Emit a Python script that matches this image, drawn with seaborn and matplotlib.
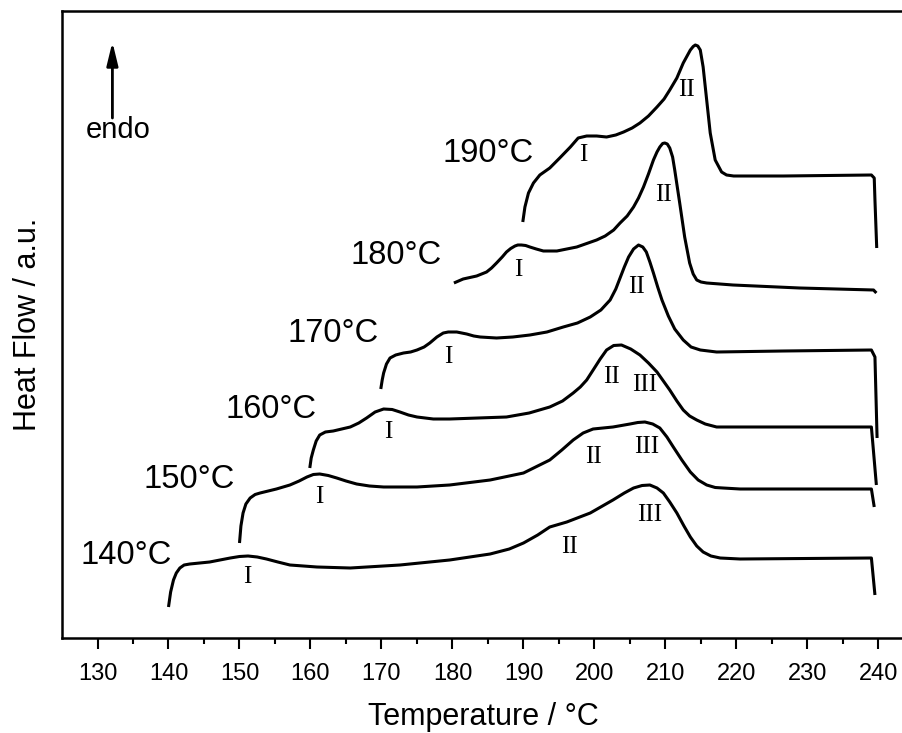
import matplotlib
matplotlib.use("Agg")
import matplotlib.pyplot as plt
import seaborn as sns
import pandas as pd

# ---- data (Temperature in °C, heat flow in arbitrary units, stacked) ----
t190 = [189.9, 190.2, 190.7, 191.4, 192.3, 193.7, 195.1, 196.6, 197.7, 198.9, 200.3, 201.7,
        203.0, 204.1, 205.3, 206.4, 207.6, 208.8, 209.8, 210.6, 211.6, 212.5, 213.5, 213.9,
        214.2, 214.55, 214.9, 215.3, 215.8, 216.3, 217.0, 217.9, 218.6, 219.6, 226.6, 239.0,
        239.4, 239.5, 239.75]
y190 = [41.6, 43.1, 44.5, 45.5, 46.3, 47.0, 48.0, 49.1, 50.0, 50.2, 50.2, 50.1,
        50.3, 50.6, 51.0, 51.5, 52.2, 53.1, 53.9, 54.8, 56.0, 57.5, 58.8, 59.15,
        59.3, 59.2, 58.8, 57.1, 53.8, 50.5, 47.8, 46.6, 46.3, 46.2, 46.2, 46.3,
        46.0, 43.8, 39.0]

t180 = [180.2, 181.5, 183.4, 184.8, 185.5, 186.2, 187.0, 187.6, 188.2, 188.8, 189.2, 189.7,
        190.3, 190.9, 191.8, 192.8, 194.7, 197.5, 200.3, 201.5, 202.7, 203.6, 204.6, 205.5,
        206.2, 206.9, 207.6, 208.3, 208.8, 209.2, 209.6, 209.9, 210.25, 210.6, 211.0, 211.3,
        212.0, 212.7, 213.4, 213.9, 214.4, 215.0, 215.8, 219.5, 228.9, 239.3, 239.7]
y180 = [35.5, 35.9, 36.2, 36.6, 37.0, 37.5, 38.1, 38.6, 38.95, 39.2, 39.3, 39.3,
        39.25, 39.1, 38.9, 38.7, 38.7, 39.1, 39.8, 40.2, 40.8, 41.5, 42.2, 43.1,
        44.0, 45.1, 46.4, 47.8, 48.6, 49.1, 49.45, 49.5, 49.4, 49.0, 48.1, 46.8,
        43.5, 40.1, 37.5, 36.4, 35.8, 35.6, 35.5, 35.3, 35.0, 34.8, 34.5]

t170 = [169.9, 170.1, 170.3, 170.7, 171.2, 172.0, 173.1, 174.1, 175.0, 176.0, 176.8, 177.8,
        178.7, 179.4, 180.6, 182.0, 183.0, 183.9, 186.2, 188.5, 190.9, 193.3, 195.6, 197.6,
        199.4, 200.9, 202.2, 203.0, 203.6, 204.2, 204.8, 205.5, 206.2, 206.8, 207.3, 207.8,
        208.3, 208.9, 209.5, 210.4, 211.3, 212.5, 213.6, 214.9, 217.2, 226.6, 239.0, 239.5,
        239.8]
y170 = [24.9, 25.8, 26.5, 27.4, 28.0, 28.3, 28.5, 28.6, 28.8, 29.1, 29.5, 30.1,
        30.5, 30.6, 30.6, 30.4, 30.2, 30.1, 30.0, 30.1, 30.3, 30.6, 31.1, 31.5,
        32.1, 32.8, 33.8, 34.9, 36.0, 37.1, 38.1, 38.9, 39.3, 39.1, 38.6, 37.6,
        36.5, 35.1, 33.8, 32.2, 30.9, 29.8, 29.1, 28.8, 28.6, 28.7, 28.8, 28.1,
        20.0]

t160 = [159.9, 160.1, 160.4, 160.8, 161.3, 162.1, 163.2, 164.4, 165.6, 166.8, 167.9, 169.1,
        170.3, 171.5, 172.6, 173.8, 175.0, 177.3, 179.6, 183.6, 187.6, 190.8, 193.7, 195.5,
        197.0, 198.0, 198.9, 199.9, 200.8, 201.7, 202.7, 203.8, 205.1, 206.4, 207.6, 208.8,
        209.7, 210.6, 211.6, 212.5, 213.4, 214.4, 215.6, 217.2, 226.6, 239.0, 239.7]
y160 = [17.0, 18.0, 18.8, 19.7, 20.3, 20.6, 20.7, 20.9, 21.1, 21.5, 22.0, 22.6,
        22.9, 22.85, 22.6, 22.3, 22.1, 21.9, 21.9, 22.0, 22.1, 22.5, 23.1, 23.7,
        24.5, 25.1, 25.8, 26.9, 27.9, 28.8, 29.25, 29.3, 28.9, 28.3, 27.5, 26.6,
        25.7, 24.8, 23.7, 22.8, 22.2, 21.8, 21.4, 21.1, 21.1, 21.1, 15.3]

t150 = [150.0, 150.2, 150.5, 150.9, 151.5, 152.2, 152.9, 155.2, 157.1, 158.4, 159.5, 160.4,
        161.3, 162.5, 163.7, 165.0, 166.5, 168.3, 170.3, 175.0, 179.6, 185.3, 190.0, 193.7,
        195.4, 197.0, 198.4, 199.8, 202.6, 205.0, 206.1, 207.1, 208.2, 209.2, 210.2, 211.1,
        212.3, 213.5, 214.6, 215.8, 217.0, 218.1, 220.5, 226.6, 239.0, 239.4]
y150 = [9.5, 11.2, 12.5, 13.4, 14.0, 14.35, 14.5, 14.9, 15.3, 15.7, 16.1, 16.35,
        16.4, 16.25, 16.0, 15.7, 15.4, 15.2, 15.1, 15.1, 15.3, 15.8, 16.5, 17.8,
        18.8, 19.8, 20.5, 20.9, 21.1, 21.4, 21.55, 21.6, 21.4, 21.0, 20.1, 19.1,
        17.8, 16.6, 15.8, 15.3, 15.05, 15.0, 14.9, 14.9, 14.9, 13.1]

t140 = [140.0, 140.3, 140.7, 141.1, 141.6, 142.2, 143.0, 145.8, 148.7, 150.0, 151.2, 152.5,
        153.8, 155.4, 157.1, 160.9, 165.6, 172.6, 179.6, 185.3, 188.0, 190.0, 192.0, 193.7,
        196.1, 199.4, 202.6, 204.2, 205.5, 206.7, 207.8, 208.8, 209.7, 210.6, 211.6, 212.6,
        213.5, 214.4, 215.3, 216.4, 217.7, 220.5, 239.0, 239.5]
y140 = [3.1, 4.6, 5.8, 6.5, 7.0, 7.3, 7.4, 7.6, 8.0, 8.15, 8.2, 8.1,
        7.9, 7.6, 7.3, 7.1, 7.0, 7.3, 7.8, 8.4, 8.9, 9.5, 10.3, 11.1,
        11.6, 12.5, 13.8, 14.5, 15.0, 15.25, 15.3, 15.0, 14.5, 13.6, 12.5, 11.2,
        10.1, 9.2, 8.6, 8.2, 8.0, 7.9, 8.0, 4.3]

curve_names = ["190°C", "180°C", "170°C", "160°C", "150°C", "140°C"]
curve_T = [t190, t180, t170, t160, t150, t140]
curve_Y = [y190, y180, y170, y160, y150, y140]

# temperature label positions (centre)
label_T = [185.0, 172.0, 163.2, 154.5, 142.9, 134.0]
label_Y = [48.5, 38.3, 30.5, 22.8, 15.8, 8.2]

# roman peak labels
peak_txt = ["I", "II", "I", "II", "I", "II", "I", "II", "III", "I", "II", "III", "I", "II", "III"]
peak_T = [198.4, 213.0, 189.3, 209.7, 179.4, 205.9, 171.0, 202.4, 207.0, 161.3, 199.8, 207.3,
          151.1, 196.5, 207.8]
peak_Y = [48.3, 54.8, 36.8, 44.3, 28.1, 35.1, 20.6, 26.1, 25.3, 14.1, 18.1, 19.1,
          6.1, 9.1, 12.3]

xticks = [130, 140, 150, 160, 170, 180, 190, 200, 210, 220, 230, 240]

# ---- plotting ----
sns.set_style("ticks", rc={"text.color": "black", "axes.labelcolor": "black",
                           "xtick.color": "black", "ytick.color": "black",
                           "axes.edgecolor": "black"})
plt.rcParams['font.family'] = ['Liberation Sans', 'DejaVu Sans']

W, H = 903, 733
fig = plt.figure(figsize=(W / 100, H / 100), dpi=100)
ax = fig.add_axes([62 / W, (H - 638) / H, (905 - 62) / W, 627 / H])

for name, T, Y in zip(curve_names, curve_T, curve_Y):
    df = pd.DataFrame({"T": T, "Y": Y})
    sns.lineplot(data=df, x="T", y="Y", ax=ax, sort=False, estimator=None,
                 color="black", linewidth=2.2, solid_joinstyle="round",
                 solid_capstyle="butt")

for name, lx, ly in zip(curve_names, label_T, label_Y):
    ax.text(lx, ly, name, ha="center", va="center", fontsize=23.5, color="black")

for s, px, py in zip(peak_txt, peak_T, peak_Y):
    ax.text(px, py, s, ha="center", va="center", fontsize=18,
            family=["Liberation Serif", "DejaVu Serif"], color="black")

ax.annotate("", xy=(132.1, 59.6), xytext=(132.1, 52.0),
            arrowprops=dict(arrowstyle="-|>,head_length=0.7,head_width=0.17",
                            mutation_scale=20, lw=2, color="black",
                            shrinkA=0, shrinkB=0))
ax.text(132.9, 50.8, "endo", ha="center", va="center", fontsize=21, color="black")

ax.set_xlim(125, 125 + (905 - 62) / 7.1)
ax.set_ylim(0, 62.7)
ax.set_xticks(xticks)
ax.set_xticks([x + 5 for x in [125] + xticks[:-1]], minor=True)
ax.set_yticks([])
ax.tick_params(axis="x", which="major", length=8, width=1.5, labelsize=17, pad=10,
               direction="out", colors="black")
ax.tick_params(axis="x", which="minor", length=4, width=1.5, direction="out",
               colors="black")
for sp in ax.spines.values():
    sp.set_linewidth(1.8)
    sp.set_color("black")
ax.spines["right"].set_visible(False)

ax.set_xlabel("Temperature / °C", fontsize=22, labelpad=12, color="black")
ax.set_ylabel("Heat Flow / a.u.", fontsize=22, labelpad=14, color="black")

fig.savefig("out.png", dpi=100)
